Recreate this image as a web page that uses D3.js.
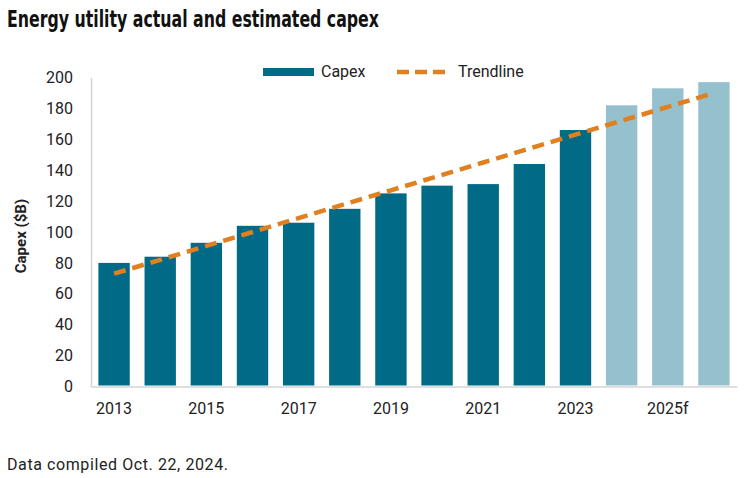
<!DOCTYPE html>
<html>
<head>
<meta charset="utf-8">
<script src="https://cdn.jsdelivr.net/npm/d3@7"></script>
<style>
  body { margin: 0; background: #fff; }
  text { font-family: Roboto, "Liberation Sans", sans-serif; fill: #222; }
</style>
</head>
<body>
<svg id="chart" width="748" height="478"></svg>
<script>
// Energy utility capex, actual and estimated

// Data
const years = ["2013", "2014", "2015", "2016", "2017", "2018", "2019",
               "2020", "2021", "2022", "2023", "2024", "2025f", "2026f"];
const capex = [80, 84, 93, 104, 106, 115, 125, 130, 131, 144, 166, 182, 193, 197];
const trend = [73, 82, 91, 100, 109, 118, 127, 136, 145, 154, 163, 172, 181, 190];
const forecastYears = ["2024", "2025f", "2026f"];
const yTicks = [0, 20, 40, 60, 80, 100, 120, 140, 160, 180, 200];
const xLabels = ["2013", "2015", "2017", "2019", "2021", "2023", "2025f"];

const svg = d3.select("#chart");

const x = d3.scaleBand()
    .domain(years)
    .range([91, 737])
    .paddingInner(0.32)
    .paddingOuter(0.16);

const y = d3.scaleLinear()
    .domain([0, 200])
    .range([386.5, 77.5]);

// Title
svg.append("text")
    .attr("x", 7)
    .attr("y", 27)
    .attr("textLength", 372)
    .attr("lengthAdjust", "spacingAndGlyphs")
    .style("font-family", "'Liberation Sans Narrow', 'DejaVu Sans Condensed', sans-serif")
    .style("font-size", "23px")
    .style("font-weight", "600")
    .style("fill", "#111")
    .text("Energy utility actual and estimated capex");

// Y axis
const yAxis = svg.append("g")
    .attr("transform", "translate(91,0)")
    .call(d3.axisLeft(y).tickValues(yTicks).tickSize(0).tickPadding(18));
yAxis.select(".domain").attr("stroke", "#d4d4d4").attr("stroke-width", 1.5);
yAxis.selectAll("text")
    .style("font-family", "Roboto, sans-serif")
    .style("font-size", "16px")
    .style("fill", "#222");

// X axis
const xAxis = svg.append("g")
    .attr("transform", `translate(0,${y(0)})`)
    .call(d3.axisBottom(x).tickValues(xLabels).tickSize(0).tickPadding(16));
xAxis.select(".domain").attr("stroke", "#d4d4d4").attr("stroke-width", 1.5);
xAxis.selectAll("text")
    .style("font-family", "Roboto, sans-serif")
    .style("font-size", "16px")
    .style("fill", "#222");

// Y axis title
svg.append("text")
    .attr("transform", "translate(26,236) rotate(-90)")
    .attr("text-anchor", "middle")
    .style("font-size", "15px")
    .style("font-weight", "bold")
    .text("Capex ($B)");

// Bars
svg.selectAll(".bar")
    .data(years)
    .join("rect")
    .attr("class", "bar")
    .attr("x", d => x(d))
    .attr("width", x.bandwidth())
    .attr("y", (d, i) => y(capex[i]))
    .attr("height", (d, i) => y(0) - y(capex[i]) - 1)
    .attr("fill", d => forecastYears.includes(d) ? "#95c1cf" : "#006a87");

// Trendline
const line = d3.line()
    .x((d, i) => x(years[i]) + x.bandwidth() / 2)
    .y(d => y(d));

svg.append("path")
    .datum(trend)
    .attr("d", line)
    .attr("fill", "none")
    .attr("stroke", "#e0801f")
    .attr("stroke-width", 4.5)
    .attr("stroke-dasharray", "12,7");

// Legend
const legend = svg.append("g");
legend.append("rect")
    .attr("x", 263).attr("y", 68)
    .attr("width", 51).attr("height", 8)
    .attr("fill", "#006a87");
legend.append("text")
    .attr("x", 321).attr("y", 77)
    .style("font-size", "16px")
    .text("Capex");
legend.append("line")
    .attr("x1", 397).attr("x2", 445)
    .attr("y1", 72).attr("y2", 72)
    .attr("stroke", "#e0801f")
    .attr("stroke-width", 4.5)
    .attr("stroke-dasharray", "12,6");
legend.append("text")
    .attr("x", 458).attr("y", 77)
    .style("font-size", "16px")
    .text("Trendline");

// Footnote
svg.append("text")
    .attr("x", 7)
    .attr("y", 470)
    .attr("textLength", 221)
    .attr("lengthAdjust", "spacing")
    .style("font-family", "Roboto, sans-serif")
    .style("font-size", "16px")
    .style("fill", "#222")
    .text("Data compiled Oct. 22, 2024.");
</script>
</body>
</html>
